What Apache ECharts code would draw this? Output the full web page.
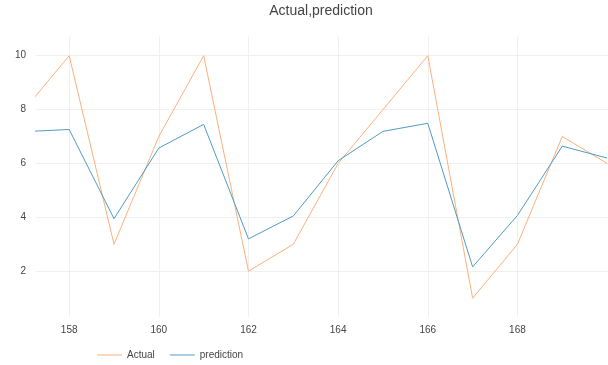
<!DOCTYPE html>
<html>
<head>
<meta charset="utf-8">
<script src="https://cdn.jsdelivr.net/npm/echarts@6/dist/echarts.min.js"></script>
<style>
html,body{margin:0;padding:0;background:#fff;}
#chart{width:608px;height:365px;}
</style>
</head>
<body>
<div id="chart"></div>
<script>
var xValues = [157, 158, 159, 160, 161, 162, 163, 164, 165, 166, 167, 168, 169, 170];
var actual = [8, 10, 3, 7, 10, 2, 3, 6, 8, 10, 1, 3, 7, 6];
var prediction = [7.18, 7.26, 3.95, 6.57, 7.45, 3.2, 4.05, 6.1, 7.19, 7.49, 2.16, 4.07, 6.64, 6.2];
var xTicks = [158, 160, 162, 164, 166, 168];
var yTicks = [2, 4, 6, 8, 10];

function pairs(ys) { return xValues.map(function (x, i) { return [x, ys[i]]; }); }

var font = 'Liberation Sans, Arial, sans-serif';
var cA = '#fcb07c', cP = '#4f9cc4';
var chart = echarts.init(document.getElementById('chart'), null, {renderer: 'canvas'});
chart.setOption({
  animation: false,
  backgroundColor: '#fff',
  title: {
    text: 'Actual,prediction',
    left: 316, top: -1, textAlign: 'center',
    textStyle: {fontFamily: font, fontSize: 14, fontWeight: 'normal', color: '#444'}
  },
  legend: {
    left: 92, top: 345, orient: 'horizontal',
    itemWidth: 25, itemHeight: 1, itemGap: 15,
    icon: 'rect',
    textStyle: {fontFamily: font, fontSize: 10, color: '#444'},
    data: ['Actual', 'prediction']
  },
  grid: {left: 36, right: 0, top: 36, bottom: 48, containLabel: false},
  xAxis: {
    type: 'value', min: 157.26, max: 170.02,
    axisLine: {show: false}, axisTick: {show: false, customValues: xTicks},
    axisLabel: {customValues: xTicks, fontFamily: font, fontSize: 10, color: '#444', margin: 8},
    splitLine: {show: true, lineStyle: {color: '#f0f0f0', width: 1}}
  },
  yAxis: {
    type: 'value', min: 0.3, max: 10.73,
    axisLine: {show: false}, axisTick: {show: false, customValues: yTicks},
    axisLabel: {customValues: yTicks, fontFamily: font, fontSize: 10, color: '#444', margin: 10},
    splitLine: {show: true, lineStyle: {color: '#f0f0f0', width: 1}}
  },
  series: [
    {name: 'Actual', type: 'line', data: pairs(actual), showSymbol: false, symbol: 'none', clip: true,
     lineStyle: {color: cA, width: 1}, itemStyle: {color: cA}},
    {name: 'prediction', type: 'line', data: pairs(prediction), showSymbol: false, symbol: 'none', clip: true,
     lineStyle: {color: cP, width: 1}, itemStyle: {color: cP}}
  ]
});
</script>
</body>
</html>
